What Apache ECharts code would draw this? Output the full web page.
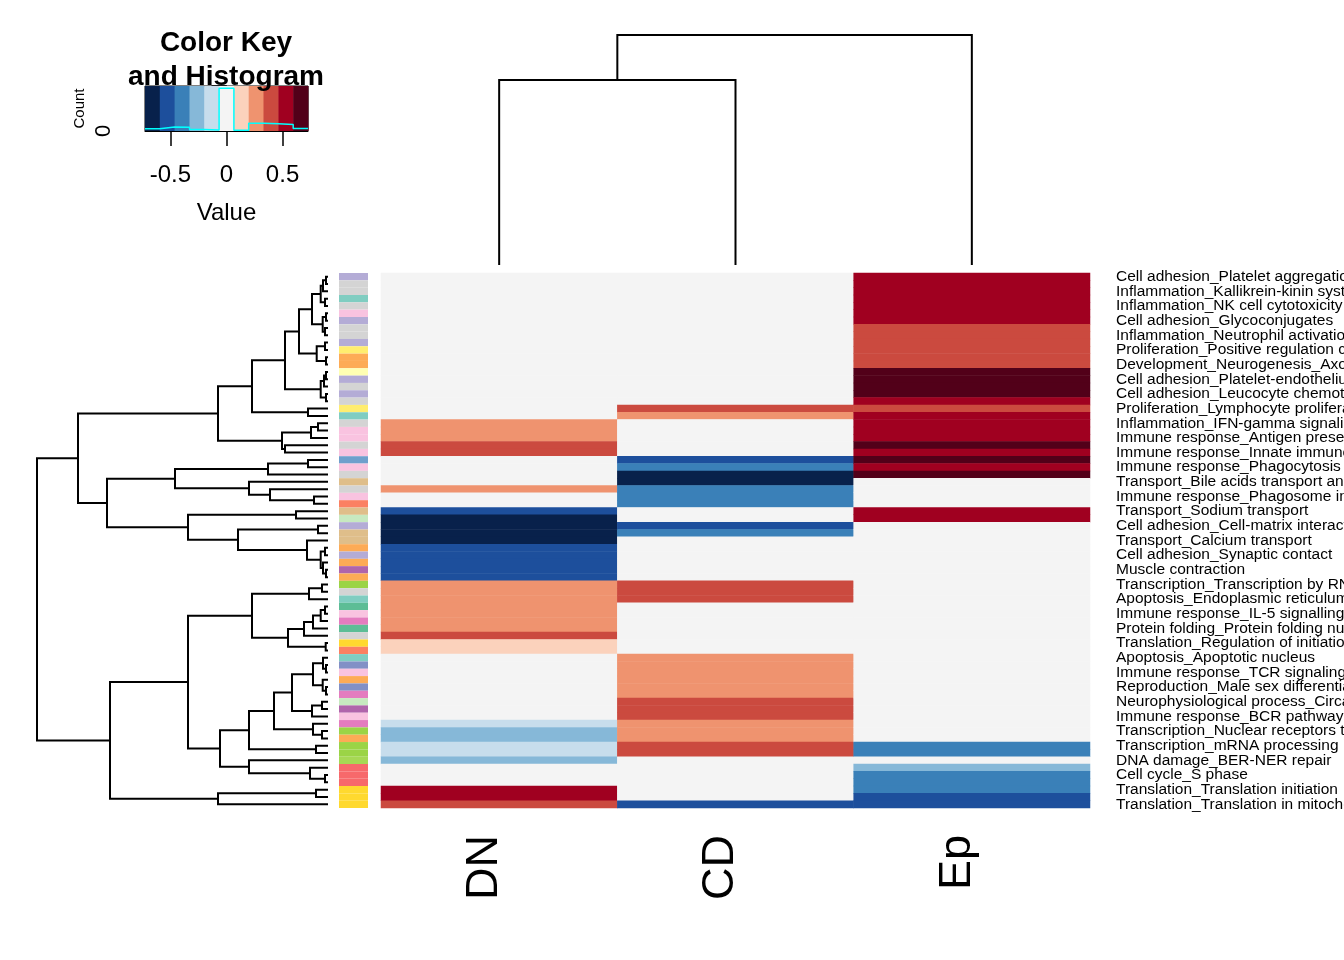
<!DOCTYPE html>
<html><head><meta charset="utf-8">
<script src="https://cdn.jsdelivr.net/npm/echarts@6/dist/echarts.min.js"></script>
<style>html,body{margin:0;padding:0;background:#fff}#c{width:1344px;height:960px}</style>
</head><body><div id="c"></div>
<script>
const columns = ['DN', 'CD', 'Ep'];

const rowLabels = [
 'Cell adhesion_Platelet aggregation','',
 'Inflammation_Kallikrein-kinin system','',
 'Inflammation_NK cell cytotoxicity','',
 'Cell adhesion_Glycoconjugates','',
 'Inflammation_Neutrophil activation','',
 'Proliferation_Positive regulation cell proliferation','',
 'Development_Neurogenesis_Axonal guidance','',
 'Cell adhesion_Platelet-endothelium-leucocyte interactions','',
 'Cell adhesion_Leucocyte chemotaxis','',
 'Proliferation_Lymphocyte proliferation','',
 'Inflammation_IFN-gamma signaling','',
 'Immune response_Antigen presentation','',
 'Immune response_Innate immune response to RNA viral infection','',
 'Immune response_Phagocytosis','',
 'Transport_Bile acids transport and its regulation','',
 'Immune response_Phagosome in antigen presentation','',
 'Transport_Sodium transport','',
 'Cell adhesion_Cell-matrix interactions','',
 'Transport_Calcium transport','',
 'Cell adhesion_Synaptic contact','',
 'Muscle contraction','',
 'Transcription_Transcription by RNA polymerase II','',
 'Apoptosis_Endoplasmic reticulum stress pathway','',
 'Immune response_IL-5 signalling','',
 'Protein folding_Protein folding nucleus','',
 'Translation_Regulation of initiation','',
 'Apoptosis_Apoptotic nucleus','',
 'Immune response_TCR signaling','',
 'Reproduction_Male sex differentiation','',
 'Neurophysiological process_Circadian rhythm','',
 'Immune response_BCR pathway','',
 'Transcription_Nuclear receptors transcriptional regulation','',
 'Transcription_mRNA processing','',
 'DNA damage_BER-NER repair','',
 'Cell cycle_S phase','',
 'Translation_Translation initiation','',
 'Translation_Translation in mitochondria'
];

const dnValues = [
 0,0,0,0,0,0,0,0,0,0, 0,0,0,0,0,0,0,0,0,0,
 0.27,0.27,0.27,0.40,0.40, 0,0,0,0, 0.27, 0,0,
 -0.53,-0.67,-0.67,-0.67,-0.67, -0.53,-0.53,-0.53,-0.53,-0.53,
 0.27,0.27,0.27,0.27,0.27,0.27,0.27, 0.40, 0.13,0.13,
 0,0,0,0,0,0,0,0,0, -0.13,-0.27,-0.27,-0.13,-0.13,-0.27, 0,0,0, 0.53,0.53,0.40
];
const cdValues = [
 0,0,0,0,0,0,0,0,0,0, 0,0,0,0,0,0,0,0,
 0.40,0.27, 0,0,0,0,0,
 -0.53,-0.40,-0.67,-0.67,-0.40,-0.40,-0.40, 0,0, -0.53,-0.40,
 0,0,0,0,0,0, 0.40,0.40,0.40, 0,0,0,0,0,0,0,
 0.27,0.27,0.27,0.27,0.27,0.27, 0.40,0.40,0.40, 0.27,0.27,0.27, 0.40,0.40,
 0,0,0,0,0,0, -0.53
];
const epValues = [
 0.53,0.53,0.53,0.53,0.53,0.53,0.53, 0.40,0.40,0.40,0.40,0.40,0.40,
 0.67,0.67,0.67,0.67, 0.53, 0.40, 0.53,0.53,0.53,0.53, 0.67,0.53,0.67,0.53,0.67,
 0,0,0,0, 0.53,0.53,
 0,0,0,0,0,0,0,0,0,0, 0,0,0,0,0,0,0,0,0,0, 0,0,0,0,0,0,0,0,0,0,
 -0.40,-0.40, 0, -0.27, -0.40,-0.40,-0.40, -0.53,-0.53
];

const rowGroupColors = [
 '#b4acd6','#d4d4d4','#d4d4d4','#80cdc1','#d4d4d4','#f9c3e0','#b4acd6','#d4d4d4','#d4d4d4','#b4acd6',
 '#ffed6f','#fdab56','#fdab56','#ffffb3','#b4acd6','#d4d4d4','#b4acd6','#d4d4d4','#ffed6f','#80cdc1',
 '#d4d4d4','#f9c3e0','#f9c3e0','#d4d4d4','#f9c3e0','#6f9fcc','#f9c3e0','#d4d4d4','#dfbe8a','#d4d4d4',
 '#f9c3e0','#fb8062','#dfbe8a','#c7e9c0','#b4acd6','#dfbe8a','#dfbe8a','#fdab56','#b4acd6','#fdab56',
 '#b065ab','#fdab56','#9bd446','#d4d4d4','#80cdc1','#5dbd96','#f9c3e0','#e47cbf','#5dbd96','#d4d4d4',
 '#ffd92f','#fb8062','#80cdc1','#8290c6','#f9c3e0','#fdab56','#8290c6','#e47cbf','#c7e9c0','#b065ab',
 '#f9c3e0','#e47cbf','#9bd446','#fdab56','#9bd446','#9bd446','#a6d854','#f7696b','#f7696b','#f7696b',
 '#ffd92f','#ffd92f','#ffd92f'
];

const keyBreaks = [-0.727,-0.595,-0.463,-0.330,-0.198,-0.066,0.066,0.198,0.330,0.463,0.595,0.727];
const keyColors = ['#08214b','#1d4f9c','#3a80b8','#86b8d8','#c7ddec','#f4f4f4','#fbd2bc','#ef936f','#cb4a3f','#a00020','#520019'];
const keyTicks = [-0.5, 0, 0.5];

// dendrogram: [height, upperChild, lowerChild]; numbers are leaf (row/column) indices
const rowTree =
[2.91,
  [2.50,
    [1.10,
      [0.76,
        [0.43,
          [0.29,
            [0.16,
              [0.073, [0.05, [0.02, 0, 1], 2], [0.03, 3, 4]],
              [0.053, [0.02, 5, 6], [0.03, 7, 8]]
            ],
            [0.113, [0.03, 9, 10], [0.02, 11, 12]]
          ],
          [0.073, [0.04, [0.02, 13, 14], 15], [0.02, 16, 17]]
        ],
        [0.20, 18, 19]
      ],
      [0.46, [0.17, [0.10, 20, 21], 22], [0.43, 23, 24]]
    ],
    [2.21,
      [1.53,
        [0.60, [0.20, 25, 26], 27],
        [0.79, 28, [0.58, 29, [0.14, 30, 31]]]
      ],
      [1.40,
        [0.32, 32, 33],
        [0.90, [0.10, 34, 35], [0.21, 36, [0.073, [0.03, 37, 38], [0.05, 39, [0.02, 40, 41]]]]]
      ]
    ]
  ],
  [2.18,
    [1.40,
      [0.76,
        [0.19, [0.06, 42, 43], 44],
        [0.40, [0.24, [0.15, [0.073, [0.03, 45, 46], 47], 48], 49], [0.023, 50, 51]]
      ],
      [1.08,
        [0.79,
          [0.54,
            [0.36,
              [0.15, [0.05, 52, [0.02, 53, 54]], [0.053, 55, [0.02, 56, 57]]],
              [0.16, [0.06, 58, 59], 60]
            ],
            [0.15, 61, [0.06, 62, 63]]
          ],
          [0.12, 64, 65]
        ],
        [0.79, 66, [0.18, 67, [0.03, 68, 69]]]
      ]
    ],
    [1.10, [0.12, 70, 71], 72]
  ]
];
const colTree = [2.30, [1.85, 0, 1], 2];

// ---------- build ----------
function dendroSegments(tree) {
  const segs = [];
  function walk(n) {
    if (typeof n === 'number') return { pos: n, h: 0 };
    const a = walk(n[1]), b = walk(n[2]);
    segs.push([[a.h, a.pos], [n[0], a.pos], [n[0], b.pos], [b.h, b.pos]]);
    return { pos: (a.pos + b.pos) / 2, h: n[0] };
  }
  walk(tree);
  return segs;
}
const rowSegs = dendroSegments(rowTree);
const colSegs = dendroSegments(colTree).map(s => s.map(p => [p[1], p[0]]));

const heatData = [];
[dnValues, cdValues, epValues].forEach((arr, c) => arr.forEach((v, r) => heatData.push([c, r, v])));

const counts = keyColors.map(() => 0);
heatData.forEach(d => {
  for (let i = 0; i < keyColors.length; i++) {
    if (d[2] >= keyBreaks[i] && d[2] < keyBreaks[i + 1]) { counts[i]++; break; }
  }
});
const maxCount = Math.max(...counts);
const keyMax = maxCount / 0.95;
const histData = counts.map((c, i) => [keyBreaks[i], c]);
histData.push([keyBreaks[keyBreaks.length - 1], counts[counts.length - 1]]);

const FONT = '"Liberation Sans", Arial, Helvetica, sans-serif';
const hidden = { show: false };
const G = { outerBoundsMode: 'none', containLabel: false };
const chart = echarts.init(document.getElementById('c'), null, { renderer: 'canvas' });

chart.setOption({
  backgroundColor: '#ffffff',
  animation: false,
  textStyle: { fontFamily: FONT, color: '#000' },
  title: {
    text: 'Color Key\nand Histogram',
    left: 221, top: 21, textAlign: 'center',
    textStyle: { fontFamily: FONT, fontSize: 28, fontWeight: 'bold', lineHeight: 34, color: '#000' }
  },
  grid: [
    Object.assign({ left: 381, top: 273, width: 709, height: 535 }, G),
    Object.assign({ left: 339, top: 273, width: 29, height: 535 }, G),
    Object.assign({ left: 37, top: 273, width: 291, height: 535 }, G),
    Object.assign({ left: 381, top: 35, width: 709, height: 230 }, G),
    Object.assign({ left: 145, top: 86, width: 163, height: 45, show: true, borderColor: '#000', borderWidth: 1, backgroundColor: 'transparent' }, G)
  ],
  xAxis: [
    { gridIndex: 0, type: 'category', data: columns, position: 'bottom',
      axisLine: hidden, axisTick: hidden, splitLine: hidden,
      axisLabel: { rotate: 90, fontSize: 45, margin: 27, color: '#000', fontFamily: FONT, verticalAlign: 'bottom', lineHeight: 29 } },
    { gridIndex: 1, type: 'category', data: ['group'], show: false },
    { gridIndex: 2, type: 'value', min: 0, max: 2.91, inverse: true, show: false },
    { gridIndex: 3, type: 'value', min: -0.5, max: 2.5, show: false },
    { gridIndex: 4, type: 'value', min: keyBreaks[0], max: keyBreaks[keyBreaks.length - 1],
      axisLine: { show: true, onZero: false, lineStyle: { color: '#000', width: 1 } },
      axisTick: { show: true, length: 15, customValues: keyTicks, lineStyle: { color: '#000', width: 1.5 } },
      axisLabel: { show: true, customValues: keyTicks, fontSize: 24, margin: 32, color: '#000', fontFamily: FONT,
        formatter: v => String(v) },
      splitLine: hidden,
      name: 'Value', nameLocation: 'middle', nameGap: 70,
      nameTextStyle: { fontSize: 24, color: '#000', fontFamily: FONT } }
  ],
  yAxis: [
    { gridIndex: 0, type: 'category', data: rowLabels, inverse: true, position: 'right',
      axisLine: hidden, axisTick: hidden, splitLine: hidden,
      axisLabel: { interval: 0, fontSize: 15.5, margin: 26, color: '#000', fontFamily: FONT } },
    { gridIndex: 1, type: 'category', data: rowLabels, inverse: true, show: false },
    { gridIndex: 2, type: 'value', min: -0.5, max: rowLabels.length - 0.5, inverse: true, show: false },
    { gridIndex: 3, type: 'value', min: 0, max: colTree[0], show: false },
    { gridIndex: 4, type: 'value', min: 0, max: keyMax, interval: 20,
      axisLine: { show: true, lineStyle: { color: '#000', width: 1 } },
      axisTick: { show: true, length: 15, lineStyle: { color: '#000', width: 1.5 } },
      axisLabel: { show: true, rotate: 90, fontSize: 22, margin: 30, color: '#000', fontFamily: FONT,
        formatter: v => (v === 0 ? '0' : '') },
      splitLine: hidden,
      name: 'Count', nameLocation: 'middle', nameGap: 58, nameRotate: 90,
      nameTextStyle: { fontSize: 15, color: '#000', fontFamily: FONT } }
  ],
  visualMap: {
    type: 'piecewise', show: false, seriesIndex: 0, dimension: 2,
    pieces: keyColors.map((col, i) => ({ gte: keyBreaks[i], lt: keyBreaks[i + 1], color: col }))
  },
  series: [
    { type: 'heatmap', xAxisIndex: 0, yAxisIndex: 0, data: heatData, silent: true,
      itemStyle: { borderWidth: 0 }, emphasis: { disabled: true } },
    { type: 'custom', xAxisIndex: 1, yAxisIndex: 1, silent: true,
      data: rowGroupColors.map((c, r) => [0, r]),
      renderItem: (params, api) => {
        const r = api.value(1);
        const p = api.coord([0, r]);
        const s = api.size([1, 1]);
        return { type: 'rect', shape: { x: p[0] - s[0] / 2, y: p[1] - s[1] / 2, width: s[0], height: s[1] },
          style: { fill: rowGroupColors[r] } };
      } },
    { type: 'lines', coordinateSystem: 'cartesian2d', xAxisIndex: 2, yAxisIndex: 2, polyline: true, silent: true,
      data: rowSegs.map(c => ({ coords: c })), lineStyle: { color: '#000', width: 2, opacity: 1 } },
    { type: 'lines', coordinateSystem: 'cartesian2d', xAxisIndex: 3, yAxisIndex: 3, polyline: true, silent: true,
      data: colSegs.map(c => ({ coords: c })), lineStyle: { color: '#000', width: 2, opacity: 1 } },
    { type: 'custom', xAxisIndex: 4, yAxisIndex: 4, silent: true, z: 1,
      data: keyColors.map((c, i) => [keyBreaks[i], keyBreaks[i + 1], i]),
      renderItem: (params, api) => {
        const i = api.value(2);
        const p0 = api.coord([api.value(0), keyMax]);
        const p1 = api.coord([api.value(1), 0]);
        return { type: 'rect', shape: { x: p0[0], y: p0[1], width: p1[0] - p0[0] + 0.5, height: p1[1] - p0[1] },
          style: { fill: keyColors[i] } };
      } },
    { type: 'line', xAxisIndex: 4, yAxisIndex: 4, step: 'end', data: histData, symbol: 'none', silent: true, z: 3,
      lineStyle: { color: '#00ffff', width: 1.5 } }
  ]
});
</script>
</body></html>
